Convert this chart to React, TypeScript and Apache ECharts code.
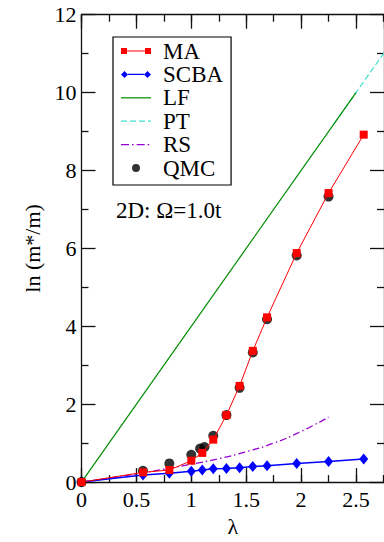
import React, { useEffect, useRef } from 'react';
import * as echarts from 'echarts';

// ---- data ----
const maLambda = [0, 0.56, 0.8, 1.0, 1.1, 1.2, 1.32, 1.44, 1.56, 1.69, 1.96, 2.25, 2.57];
const maValues = [0, 0.25, 0.31, 0.55, 0.75, 1.09, 1.72, 2.47, 3.37, 4.23, 5.88, 7.42, 8.92];

const scbaLambda = [0, 0.56, 0.8, 1.0, 1.1, 1.2, 1.32, 1.44, 1.56, 1.69, 1.96, 2.25, 2.57];
const scbaValues = [0, 0.18, 0.23, 0.28, 0.31, 0.34, 0.35, 0.37, 0.4, 0.42, 0.48, 0.53, 0.59];

const lfLambda = [0, 2.5];
const lfValues = [0, 10];

const ptLambda = [2.3, 2.76];
const ptValues = [9.2, 11.04];

const rsLambda = [0, 0.25, 0.5, 0.75, 1.0, 1.25, 1.5, 1.75, 2.0, 2.25];
const rsValues = [0, 0.1, 0.21, 0.33, 0.46, 0.6, 0.78, 1.0, 1.3, 1.67];

const qmcLambda = [0, 0.56, 0.8, 1.0, 1.08, 1.12, 1.2, 1.32, 1.44, 1.56, 1.69, 1.96, 2.25];
const qmcValues = [0, 0.29, 0.48, 0.7, 0.86, 0.9, 1.19, 1.72, 2.42, 3.33, 4.18, 5.82, 7.33];

const legendNames = ['MA', 'SCBA', 'LF', 'PT', 'RS', 'QMC'];
const xAxisTitle = 'λ';
const yAxisTitle = 'ln (m*/m)';
const annotation = '2D: Ω=1.0t';

const X_MIN = 0;
const X_MAX = 2.755;
const Y_MIN = 0;
const Y_MAX = 12;

const SERIF = "'Liberation Serif', 'Times New Roman', serif";

const pairs = (xs: number[], ys: number[]) => xs.map((x, i) => [x, ys[i]]);

// legend icons (37 x 8 box, drawing in 0..30)
const B = 'M0 0M37 8';
const ICONS: Record<string, string> = {
  MA: `path://${B}M0 1h6v6H0zM24 1h6v6h-6zM6 3.4h18v1.2H6z`,
  SCBA: `path://${B}M0 4L3.5 0.5L7 4L3.5 7.5zM23 4L26.5 0.5L30 4L26.5 7.5zM7 3.3h16v1.4H7z`,
  LF: `path://${B}M0 3.4h30v1.2H0z`,
  PT: `path://${B}M0 3.4h6v1.2H0zM9 3.4h6v1.2H9zM18 3.4h6v1.2h-6zM27 3.4h3v1.2h-3z`,
  RS: `path://${B}M0 3.4h8v1.2H0zM11 3.4h1.6v1.2H11zM15.6 3.4h8v1.2h-8zM26.6 3.4h1.6v1.2h-1.6z`,
  QMC: `path://${B}M11 4A4 4 0 1 0 19 4A4 4 0 1 0 11 4z`,
};

const axisColor = '#111';

export default function App() {
  const ref = useRef<HTMLDivElement>(null);

  useEffect(() => {
    const chart = echarts.init(ref.current!, null, { renderer: 'svg' });
    const lineStyle = { color: axisColor, width: 1.3 };
    const xBase = {
      type: 'value',
      min: X_MIN,
      max: X_MAX,
      splitLine: { show: false },
    };
    const yBase = {
      type: 'value',
      min: Y_MIN,
      max: Y_MAX,
      interval: 2,
      splitLine: { show: false },
      minorSplitLine: { show: false },
    };
    chart.setOption({
      animation: false,
      backgroundColor: '#fff',
      textStyle: { fontFamily: SERIF },
      grid: { left: 81.5, top: 14.7, width: 304.5, height: 475.3, containLabel: false },
      legend: {
        data: legendNames.map((n) => ({ name: n, icon: ICONS[n] })),
        orient: 'vertical',
        left: 113,
        top: 37,
        itemWidth: 37,
        itemHeight: 8,
        itemGap: 0.4,
        padding: [2.5, 8, 5.5, 8],
        borderColor: '#000',
        borderWidth: 1.2,
        backgroundColor: '#fff',
        selectedMode: false,
        itemStyle: { borderWidth: 0 },
        textStyle: { fontFamily: SERIF, fontSize: 23, color: '#000', lineHeight: 23 },
      },
      xAxis: [
        {
          ...xBase,
          position: 'bottom',
          interval: 0.5,
          axisLine: { show: true, onZero: false, lineStyle },
          axisTick: { show: true, inside: true, length: 14, lineStyle },
          axisLabel: {
            show: true,
            margin: 6,
            fontFamily: SERIF,
            fontSize: 22,
            color: '#000',
            showMaxLabel: false,
          },
          name: xAxisTitle,
          nameLocation: 'middle',
          nameGap: 30,
          nameTextStyle: { fontFamily: SERIF, fontSize: 22, color: '#000' },
        },
        {
          ...xBase,
          position: 'bottom',
          interval: 0.25,
          axisLine: { show: false, onZero: false },
          axisTick: { show: true, inside: true, length: 7, lineStyle },
          axisLabel: { show: false },
        },
        {
          ...xBase,
          position: 'top',
          interval: 0.5,
          axisLine: { show: true, onZero: false, lineStyle },
          axisTick: { show: true, inside: true, length: 14, lineStyle },
          axisLabel: { show: false },
        },
        {
          ...xBase,
          position: 'top',
          interval: 0.25,
          axisLine: { show: false, onZero: false },
          axisTick: { show: true, inside: true, length: 7, lineStyle },
          axisLabel: { show: false },
        },
      ],
      yAxis: [
        {
          ...yBase,
          position: 'left',
          axisLine: { show: true, onZero: false, lineStyle },
          axisTick: { show: true, inside: true, length: 14, lineStyle },
          minorTick: { show: true, splitNumber: 2, length: 7, lineStyle },
          axisLabel: { show: true, margin: 5, fontFamily: SERIF, fontSize: 22, color: '#000' },
          name: yAxisTitle,
          nameLocation: 'middle',
          nameGap: 35,
          nameRotate: 90,
          nameTextStyle: { fontFamily: SERIF, fontSize: 22, color: '#000' },
        },
        {
          ...yBase,
          position: 'right',
          axisLine: { show: true, onZero: false, lineStyle },
          axisTick: { show: true, inside: true, length: 14, lineStyle },
          minorTick: { show: true, splitNumber: 2, length: 7, lineStyle },
          axisLabel: { show: false },
        },
      ],
      graphic: [
        {
          type: 'text',
          left: 116,
          top: 199,
          style: { text: annotation, fontFamily: SERIF, fontSize: 23, fill: '#000' },
        },
      ],
      series: [
        {
          name: 'PT',
          type: 'line',
          data: pairs(ptLambda, ptValues),
          symbol: 'none',
          itemStyle: { color: '#40e0d0' },
          lineStyle: { color: '#40e0d0', width: 1.2, type: [6, 3] },
          z: 1,
        },
        {
          name: 'LF',
          type: 'line',
          data: pairs(lfLambda, lfValues),
          symbol: 'none',
          itemStyle: { color: '#008b00' },
          lineStyle: { color: '#008b00', width: 1.2 },
          z: 2,
        },
        {
          name: 'RS',
          type: 'line',
          data: pairs(rsLambda, rsValues),
          symbol: 'none',
          smooth: true,
          itemStyle: { color: '#9400d3' },
          lineStyle: { color: '#9400d3', width: 1.3, type: [7, 3, 1.5, 3] },
          z: 2,
        },
        {
          name: 'SCBA',
          type: 'line',
          data: pairs(scbaLambda, scbaValues),
          symbol: 'diamond',
          symbolSize: [9, 11],
          itemStyle: { color: '#0000ff' },
          lineStyle: { color: '#0000ff', width: 1.5 },
          z: 3,
        },
        {
          name: 'QMC',
          type: 'scatter',
          data: pairs(qmcLambda, qmcValues),
          symbol: 'circle',
          symbolSize: 10,
          itemStyle: { color: '#000' },
          z: 4,
        },
        {
          name: 'MA',
          type: 'line',
          data: pairs(maLambda, maValues),
          symbol: 'rect',
          symbolSize: 8,
          itemStyle: { color: '#ff0000' },
          lineStyle: { color: '#ff0000', width: 1 },
          z: 5,
        },
      ],
    });
    return () => chart.dispose();
  }, []);

  return (
    <div style={{ position: 'fixed', left: 0, top: 0, width: 384, height: 542, background: '#fff', overflow: 'hidden' }}>
      <div ref={ref} style={{ width: 384, height: 542 }} />
    </div>
  );
}
